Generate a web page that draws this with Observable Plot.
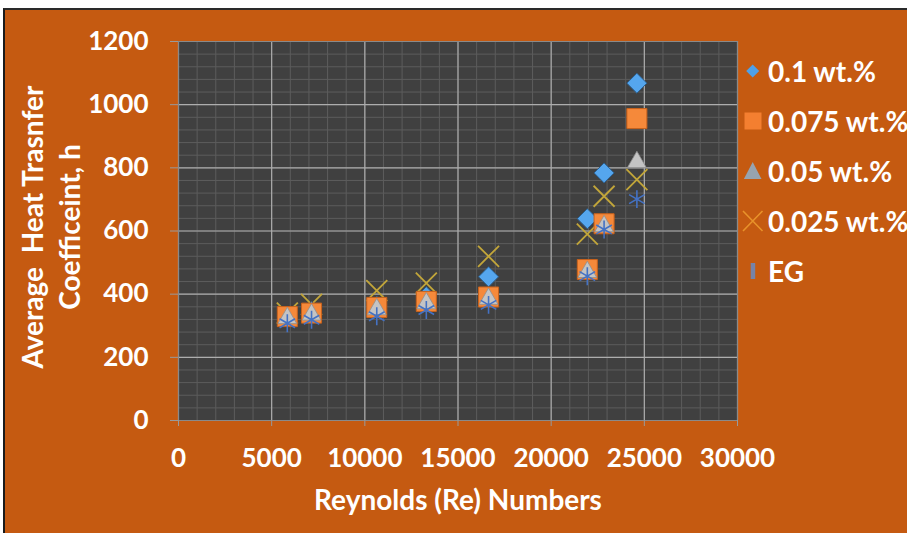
<!DOCTYPE html>
<html>
<head>
<meta charset="utf-8">
<script src="https://cdn.jsdelivr.net/npm/d3@7"></script>
<script src="https://cdn.jsdelivr.net/npm/@observablehq/plot@0.6"></script>
<style>
  html, body { margin: 0; padding: 0; background: #ffffff; }
  #wrap { position: relative; width: 907px; height: 535px; overflow: hidden; background: #ffffff; }
  #panel { position: absolute; left: 3px; top: 8px; width: 904px; height: 525px; background: #C55A11;
           border-left: 2px solid #1a1a1a; border-top: 2px solid #2a2a2a; box-sizing: border-box; }
  #chart { position: absolute; left: 0; top: 0; }
  .txt { position: absolute; font-family: Lato, "Open Sans", sans-serif; font-weight: bold; font-size: 28px; color: #ffffff; white-space: nowrap; }
  #ytitle { left: -149px; top: 190px; width: 400px; height: 74px; line-height: 37px; text-align: center; transform: rotate(-90deg); transform-origin: 50% 50%; }
  #xtitle { left: 258px; top: 484px; width: 400px; line-height: 30px; text-align: center; }
  .leg { position: absolute; left: 740px; height: 30px; }
  .leg svg { position: absolute; left: 0; top: 0; }
  .leg span { position: absolute; left: 28px; top: 0; line-height: 30px; font-family: Lato, "Open Sans", sans-serif; font-weight: bold; font-size: 28px; color: #fff; white-space: nowrap; }
</style>
</head>
<body>
<div id="wrap">
  <div id="panel"></div>
  <div id="chart"></div>
  <div id="ytitle" class="txt">Average&nbsp;&nbsp;Heat Trasnfer<br>Coefficeint, h</div>
  <div id="xtitle" class="txt">Reynolds (Re) Numbers</div>
  <div id="legend"></div>
</div>
<script>
// ---- data ----
const reynolds = [5840, 7140, 10640, 13300, 16640, 21940, 22840, 24600];
const h_01   = [330, 345, 362, 392, 455, 639, 784, 1068];
const h_0075 = [329, 340, 358, 377, 391, 478, 623, 956];
const h_005  = [324, 335, 352, 371, 385, 470, 615, 818];
const h_0025 = [340, 368, 411, 435, 520, 590, 710, 763];
const h_EG   = [308, 319, 330, 350, 366, 457, 605, 701];

const seriesNames = ["0.1 wt.%", "0.075 wt.%", "0.05 wt.%", "0.025 wt.%", "EG"];
const xTicks = [0, 5000, 10000, 15000, 20000, 25000, 30000];
const yTicks = [0, 200, 400, 600, 800, 1000, 1200];
const xMinor = d3.range(0, 30001, 1000);
const yMinor = d3.range(0, 1201, 40);

const rows = (vals) => reynolds.map((re, i) => ({re, h: vals[i]}));

const chart = Plot.plot({
  width: 907,
  height: 535,
  marginLeft: 178,
  marginRight: 170,
  marginTop: 41,
  marginBottom: 115,
  style: {background: "transparent", color: "#ffffff", fontFamily: "Lato, 'Open Sans', sans-serif", fontSize: "26px", fontWeight: "bold", overflow: "visible"},
  x: {domain: [0, 30000]},
  y: {domain: [0, 1200]},
  marks: [
    Plot.frame({fill: "#404040"}),
    Plot.gridX(xMinor, {stroke: "#5c5c5c", strokeOpacity: 1, strokeWidth: 1}),
    Plot.gridY(yMinor, {stroke: "#5c5c5c", strokeOpacity: 1, strokeWidth: 1}),
    Plot.gridX(xTicks, {stroke: "#adadad", strokeOpacity: 1, strokeWidth: 1.2}),
    Plot.gridY(yTicks, {stroke: "#adadad", strokeOpacity: 1, strokeWidth: 1.2}),
    Plot.frame({stroke: "#8a8a8a"}),
    Plot.axisX(xTicks, {tickSize: 6, tickPadding: 22, stroke: "#9a9a9a", tickFormat: d3.format("d"), label: null}),
    Plot.axisY(yTicks, {tickSize: 8, tickPadding: 22, stroke: "#9a9a9a", tickFormat: d3.format("d"), label: null}),
    Plot.dot(rows(h_0025), {x: "re", y: "h", symbol: "times", r: 9.6, stroke: "#C2A63A", strokeWidth: 1.8}),
    Plot.dot(rows(h_01), {x: "re", y: "h", symbol: "diamond2", r: 9, fill: "#55A6EE", stroke: "#2c5f8e", strokeWidth: 1}),
    Plot.dot(rows(h_0075), {x: "re", y: "h", symbol: "square", r: 11.3, fill: "#F5893A", stroke: "#c8621c", strokeWidth: 1}),
    Plot.dot(rows(h_005), {x: "re", y: "h", symbol: "triangle", r: 7, fill: "#C4C4C4", stroke: "#8f8f8f", strokeWidth: 0.8}),
    Plot.dot(rows(h_EG), {x: "re", y: "h", symbol: "asterisk", r: 8.5, stroke: "#4472C4", strokeWidth: 1.6})
  ]
});
document.getElementById("chart").appendChild(chart);

// ---- legend (HTML) ----
const legendY = [56, 106, 156, 206, 256];
const legendIcons = [
  `<svg width="26" height="30"><path d="M12.7,8.5 L19.2,15 L12.7,21.5 L6.2,15 Z" fill="#4FA0E8"/></svg>`,
  `<svg width="26" height="30"><rect x="4.5" y="6.5" width="17" height="17" fill="#F47F30"/></svg>`,
  `<svg width="26" height="30"><path d="M12.7,6 L21.5,23 L3.9,23 Z" fill="#97A3AF"/></svg>`,
  `<svg width="26" height="30"><path d="M3,5 L22.5,25 M3,25 L22.5,5" stroke="#E8922A" stroke-width="1.6"/></svg>`,
  `<svg width="26" height="30"><rect x="10.7" y="7" width="4.5" height="16" fill="#7683a8"/></svg>`
];
const leg = document.getElementById("legend");
seriesNames.forEach((name, i) => {
  const d = document.createElement("div");
  d.className = "leg";
  d.style.top = legendY[i] + "px";
  d.innerHTML = legendIcons[i] + `<span>${name}</span>`;
  leg.appendChild(d);
});
</script>
</body>
</html>
